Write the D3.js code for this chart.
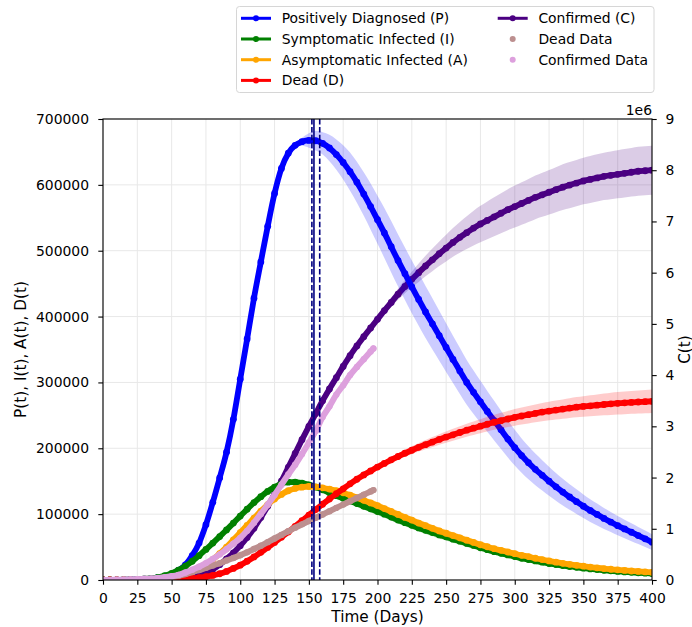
<!DOCTYPE html>
<html>
<head>
<meta charset="utf-8">
<script src="https://cdn.jsdelivr.net/npm/d3@7"></script>
<style>
body { margin: 0; background: #fff; }
svg { font-family: "DejaVu Sans", sans-serif; }
</style>
</head>
<body>
<svg id="chart" width="692" height="627"></svg>
<script>
/*################
Data (model sampled every 5 days)
################*/
const days = d3.range(0, 401, 5);

const positive = [0, 50, 150, 300, 500, 800, 1300, 2200, 3500, 5700,
    9000, 14500, 23000, 37000, 56000, 84000, 118000, 155000, 194000, 244000,
    305000, 366000, 428000, 483000, 537000, 587000, 625000, 648000, 660000, 665500,
    667500, 667000, 663000, 656000, 646000, 634000, 620000, 604000, 586000, 567000,
    547000, 527000, 506000, 485000, 465000, 445000, 426000, 407000, 389000, 371000,
    353000, 335000, 317500, 300000, 285000, 270500, 256000, 242000, 228000, 214000,
    201000, 189000, 178000, 168000, 159000, 150000, 141500, 133500, 126000, 119000,
    112000, 105500, 99500, 93500, 88000, 82500, 77500, 72500, 67500, 62500,
    57500];
const positiveBand = [0, 0, 0, 0, 0, 0, 0, 0, 0, 0,
    0, 0, 0, 0, 0, 0, 0, 0, 0, 0,
    0, 0, 0, 0, 0, 0, 0, 0, 2000, 6000,
    11000, 15000, 17000, 20000, 23000, 26000, 29000, 31000, 33000, 35000,
    36500, 38000, 39000, 39500, 40000, 40000, 40000, 39500, 39000, 38000,
    37000, 36000, 35000, 34000, 33000, 32000, 31000, 30000, 29000, 28000,
    27000, 26000, 25000, 24000, 23000, 22000, 21000, 20200, 19500, 18700,
    18000, 17300, 16600, 16000, 15300, 14700, 14100, 13500, 13000, 12500,
    12000];

const symptomatic = [0, 100, 200, 400, 600, 1000, 1500, 2500, 4000, 6500,
    10000, 15000, 21000, 28500, 37000, 46500, 56000, 66000, 76000, 86500,
    97000, 107500, 117500, 126500, 134500, 141000, 146000, 148500, 148500, 147000,
    144500, 141000, 137000, 132500, 128000, 124000, 120000, 116000, 112000, 108000,
    104000, 100000, 95500, 91000, 87000, 83000, 79000, 75500, 72000, 68500,
    65500, 62000, 59000, 55500, 52500, 49000, 46000, 43000, 40500, 38000,
    35500, 33000, 31000, 29000, 27000, 25000, 23500, 22000, 20500, 19200,
    18000, 16800, 15800, 14800, 13900, 13000, 12300, 11600, 11000, 10400,
    9900];
const asymptomatic = [0, 0, 50, 100, 200, 300, 500, 700, 1000, 1800,
    3000, 5000, 8000, 12000, 17000, 23000, 31000, 40000, 50000, 61000,
    72000, 83000, 94000, 104500, 114500, 123000, 130000, 135500, 139000, 141000,
    142000, 141500, 140000, 138000, 135500, 132500, 129000, 125000, 121000, 117000,
    113000, 108500, 104000, 99500, 95000, 91000, 86500, 82500, 78500, 74500,
    71000, 67500, 64000, 60500, 57000, 53500, 50500, 47500, 45000, 42500,
    40000, 37500, 35500, 33000, 31000, 29000, 27000, 25300, 23800, 22300,
    21000, 19700, 18500, 17400, 16300, 15400, 14500, 13700, 13000, 12300,
    11700];
const infectedBand = [0, 0, 0, 0, 0, 0, 0, 0, 0, 0,
    0, 0, 0, 0, 0, 0, 0, 0, 0, 0,
    0, 0, 0, 0, 0, 0, 0, 0, 0, 0,
    0, 0, 0, 1000, 2000, 3000, 4000, 5000, 5500, 5500,
    5500, 5500, 5500, 5500, 5500, 5500, 5500, 5500, 5500, 5500,
    5500, 5500, 5500, 5300, 5100, 4900, 4700, 4500, 4300, 4100,
    3900, 3700, 3500, 3400, 3300, 3200, 3100, 3000, 2900, 2800,
    2700, 2600, 2500, 2400, 2300, 2200, 2100, 2000, 1900, 1800,
    1700];

const dead = [0, 0, 0, 0, 50, 100, 150, 250, 350, 500,
    700, 1000, 1500, 2300, 3500, 5000, 7000, 9500, 13000, 17500,
    22500, 28500, 35000, 42000, 49500, 57000, 65000, 73000, 81500, 90000,
    98500, 107000, 115000, 123000, 131000, 138500, 146000, 153000, 159500, 165500,
    171500, 177000, 182500, 187500, 192500, 197000, 201500, 205500, 209500, 213500,
    217000, 220500, 224000, 227500, 230500, 233500, 236500, 239500, 242000, 244500,
    247000, 249000, 251000, 253000, 255000, 256500, 258000, 259500, 261000, 262500,
    263500, 264500, 265500, 266500, 267500, 268300, 269000, 269700, 270300, 270800,
    271300];
const deadBand = [0, 0, 0, 0, 0, 0, 0, 0, 0, 0,
    0, 0, 0, 0, 0, 0, 0, 0, 0, 0,
    0, 0, 0, 0, 0, 0, 0, 0, 0, 0,
    0, 0, 0, 0, 500, 1000, 1500, 2000, 2500, 3000,
    3500, 4000, 4500, 5000, 5500, 6000, 6500, 7000, 7500, 8000,
    8500, 9000, 9400, 9800, 10200, 10600, 11000, 11400, 11800, 12200,
    12600, 12900, 13200, 13500, 13800, 14100, 14400, 14700, 15000, 15300,
    15600, 15900, 16200, 16500, 16800, 17000, 17200, 17400, 17600, 17700,
    17800];

// confirmed, in millions (right axis)
const confirmed = [0, 0, 0, 0, 0, 0, 0, 0, 0, 0,
    0.002, 0.01, 0.03, 0.06, 0.1, 0.15, 0.21, 0.3, 0.41, 0.53,
    0.67, 0.83, 1.01, 1.22, 1.44, 1.68, 1.93, 2.2, 2.47, 2.74,
    3.0, 3.25, 3.5, 3.73, 3.95, 4.17, 4.38, 4.57, 4.75, 4.92,
    5.09, 5.26, 5.42, 5.58, 5.73, 5.87, 6.0, 6.13, 6.25, 6.37,
    6.48, 6.59, 6.69, 6.78, 6.87, 6.95, 7.02, 7.09, 7.16, 7.23,
    7.29, 7.35, 7.41, 7.47, 7.52, 7.57, 7.62, 7.67, 7.71, 7.75,
    7.79, 7.82, 7.85, 7.88, 7.9, 7.92, 7.94, 7.96, 7.98, 7.99,
    8.0];
const confirmedBand = [0, 0, 0, 0, 0, 0, 0, 0, 0, 0,
    0, 0, 0, 0, 0, 0, 0, 0, 0, 0,
    0, 0, 0, 0, 0, 0, 0, 0, 0, 0,
    0, 0, 0, 0, 0, 0, 0, 0.01, 0.02, 0.035,
    0.05, 0.07, 0.09, 0.11, 0.13, 0.15, 0.18, 0.2, 0.22, 0.24,
    0.26, 0.28, 0.3, 0.32, 0.34, 0.355, 0.37, 0.38, 0.39, 0.4,
    0.41, 0.415, 0.42, 0.425, 0.43, 0.435, 0.44, 0.445, 0.45, 0.452,
    0.455, 0.458, 0.46, 0.463, 0.466, 0.469, 0.472, 0.474, 0.476, 0.478,
    0.48];

// observed data
const dataDays = [...d3.range(0, 196, 5), 197];
const deadData = [0, 50, 100, 200, 300, 500, 800, 1300, 2000, 3000,
    4500, 6500, 9000, 12000, 15000, 18500, 22000, 25500, 29500, 33500,
    37500, 42000, 47000, 52000, 57500, 63000, 68500, 74000, 79500, 84500,
    89500, 94500, 99500, 104500, 109500, 114500, 119500, 124500, 129500, 134500,
    136500];
const confirmedData = [0, 0.002, 0.005, 0.008, 0.012, 0.017, 0.023, 0.03, 0.04, 0.055,
    0.072, 0.1, 0.145, 0.2, 0.26, 0.33, 0.41, 0.5, 0.6, 0.71,
    0.82, 0.96, 1.12, 1.29, 1.47, 1.66, 1.86, 2.06, 2.25, 2.46,
    2.68, 2.91, 3.18, 3.39, 3.62, 3.8, 4.0, 4.16, 4.31, 4.46,
    4.52];

// peak day and its bounds
const peakDay = [153.7];
const peakRange = [152.2, 157.9];

const xTicks = d3.range(0, 401, 25);
const leftTicks = d3.range(0, 700001, 100000);
const rightTicks = d3.range(0, 10, 1);

/*################
Canvas
################*/
const plotLeft = 103, plotRight = 652, plotTop = 119, plotBottom = 580;
const fontSize = '13.9px', labelSize = '15.3px';

const svg = d3.select('#chart');

const x = d3.scaleLinear().domain([0, 400]).range([plotLeft, plotRight]);
const yL = d3.scaleLinear().domain([0, 700000]).range([plotBottom, plotTop]);
const yR = d3.scaleLinear().domain([0, 9]).range([plotBottom, plotTop]);

svg.append('defs').append('clipPath').attr('id', 'plotClip')
    .append('rect')
    .attr('x', plotLeft).attr('y', plotTop)
    .attr('width', plotRight - plotLeft).attr('height', plotBottom - plotTop);

// grid
const grid = svg.append('g');
grid.selectAll('.vgrid').data(xTicks).enter().append('line')
    .attr('x1', d => x(d)).attr('x2', d => x(d))
    .attr('y1', plotTop).attr('y2', plotBottom)
    .attr('stroke', '#e8e8e8').attr('stroke-width', 1);
grid.selectAll('.hgrid').data(leftTicks).enter().append('line')
    .attr('x1', plotLeft).attr('x2', plotRight)
    .attr('y1', d => yL(d)).attr('y2', d => yL(d))
    .attr('stroke', '#e8e8e8').attr('stroke-width', 1);

const plot = svg.append('g').attr('clip-path', 'url(#plotClip)');

let series = [
    { name: 'Confirmed (C)', values: confirmed, band: confirmedBand, color: 'indigo', y: yR },
    { name: 'Positively Diagnosed (P)', values: positive, band: positiveBand, color: 'blue', y: yL },
    { name: 'Symptomatic Infected (I)', values: symptomatic, band: infectedBand, color: 'green', y: yL },
    { name: 'Asymptomatic Infected (A)', values: asymptomatic, band: infectedBand, color: 'orange', y: yL },
    { name: 'Dead (D)', values: dead, band: deadBand, color: 'red', y: yL }
];

series.forEach(s => {
    const area = d3.area()
        .x((d, i) => x(days[i]))
        .y0((d, i) => s.y(d - s.band[i]))
        .y1((d, i) => s.y(d + s.band[i]))
        .curve(d3.curveMonotoneX);
    const line = d3.line()
        .x((d, i) => x(days[i]))
        .y(d => s.y(d))
        .curve(d3.curveMonotoneX);

    plot.append('path').datum(s.values)
        .attr('d', area)
        .attr('fill', s.color)
        .attr('fill-opacity', 0.2);
    plot.append('path').datum(s.values)
        .attr('d', line)
        .attr('fill', 'none')
        .attr('stroke', s.color)
        .attr('stroke-width', 5.8);
    plot.append('g').selectAll('circle')
        .data(s.values).enter().append('circle')
        .attr('cx', (d, i) => x(days[i]))
        .attr('cy', d => s.y(d))
        .attr('r', 3.4)
        .attr('fill', s.color);
});

// observed points
let observed = [
    { name: 'Dead Data', values: deadData, color: 'rosybrown', y: yL },
    { name: 'Confirmed Data', values: confirmedData, color: 'plum', y: yR }
];
observed.forEach(s => {
    plot.append('path').datum(s.values)
        .attr('d', d3.line().x((d, i) => x(dataDays[i])).y(d => s.y(d)).curve(d3.curveMonotoneX))
        .attr('fill', 'none')
        .attr('stroke', s.color)
        .attr('stroke-width', 6)
        .attr('stroke-linecap', 'round');
    plot.append('g').selectAll('circle')
        .data(s.values).enter().append('circle')
        .attr('cx', (d, i) => x(dataDays[i]))
        .attr('cy', d => s.y(d))
        .attr('r', 3.2)
        .attr('fill', s.color);
});

// peak lines
plot.selectAll('.peak').data(peakDay).enter().append('line')
    .attr('x1', d => x(d)).attr('x2', d => x(d))
    .attr('y1', plotTop).attr('y2', plotBottom)
    .attr('stroke', 'navy').attr('stroke-width', 1.6);
plot.selectAll('.bound').data(peakRange).enter().append('line')
    .attr('x1', d => x(d)).attr('x2', d => x(d))
    .attr('y1', plotTop).attr('y2', plotBottom)
    .attr('stroke', 'navy').attr('stroke-width', 1.6)
    .attr('stroke-dasharray', '5.5,2.4');

/*################
Axes
################*/
let styleAxis = g => {
    g.select('.domain').remove();
    g.selectAll('line').attr('stroke', '#000').attr('stroke-width', 1.1);
    g.selectAll('text').attr('font-size', fontSize).attr('fill', '#000')
        .attr('font-family', '"DejaVu Sans", sans-serif');
};

svg.append('g').attr('transform', `translate(0,${plotBottom})`)
    .call(d3.axisBottom(x).tickValues(xTicks).tickSize(4.7).tickPadding(8.3))
    .call(styleAxis);
svg.append('g').attr('transform', `translate(${plotLeft},0)`)
    .call(d3.axisLeft(yL).tickValues(leftTicks).tickFormat(d3.format('d')).tickSize(4.7).tickPadding(9.3))
    .call(styleAxis);
svg.append('g').attr('transform', `translate(${plotRight},0)`)
    .call(d3.axisRight(yR).tickValues(rightTicks).tickFormat(d3.format('d')).tickSize(4.7).tickPadding(8.7))
    .call(styleAxis);

svg.append('rect')
    .attr('x', plotLeft).attr('y', plotTop)
    .attr('width', plotRight - plotLeft).attr('height', plotBottom - plotTop)
    .attr('fill', 'none').attr('stroke', '#000').attr('stroke-width', 1.1);

svg.append('text')
    .attr('x', (plotLeft + plotRight) / 2).attr('y', 622)
    .attr('text-anchor', 'middle').attr('font-size', labelSize)
    .text('Time (Days)');
svg.append('text')
    .attr('transform', `translate(26.3,${(plotTop + plotBottom) / 2}) rotate(-90)`)
    .attr('text-anchor', 'middle').attr('font-size', labelSize)
    .text('P(t), I(t), A(t), D(t)');
svg.append('text')
    .attr('transform', `translate(689.5,${(plotTop + plotBottom) / 2}) rotate(-90)`)
    .attr('text-anchor', 'middle').attr('font-size', labelSize)
    .text('C(t)');
svg.append('text')
    .attr('x', plotRight).attr('y', 115)
    .attr('text-anchor', 'end').attr('font-size', fontSize)
    .text('1e6');

/*################
Legend
################*/
let legendItems = [
    { name: 'Positively Diagnosed (P)', color: 'blue', line: true },
    { name: 'Symptomatic Infected (I)', color: 'green', line: true },
    { name: 'Asymptomatic Infected (A)', color: 'orange', line: true },
    { name: 'Dead (D)', color: 'red', line: true },
    { name: 'Confirmed (C)', color: 'indigo', line: true },
    { name: 'Dead Data', color: 'rosybrown', line: false },
    { name: 'Confirmed Data', color: 'plum', line: false }
];

function position(d, i) {
    const col = i < 4 ? 0 : 1;
    const row = i < 4 ? i : i - 4;
    return `translate(${241 + col * 256.7},${18.3 + row * 20.7})`;
}

svg.append('rect')
    .attr('x', 236.5).attr('y', 6.5)
    .attr('width', 417.5).attr('height', 86)
    .attr('rx', 3)
    .attr('fill', '#fff').attr('fill-opacity', 0.8)
    .attr('stroke', '#d6d6d6').attr('stroke-width', 1);

svg.append('g').selectAll('g')
    .data(legendItems).enter().append('g')
    .attr('transform', position)
    .call(g => g.filter(d => d.line).append('line')
        .attr('x1', 0).attr('x2', 30)
        .attr('stroke', d => d.color).attr('stroke-width', 3))
    .call(g => g.append('circle')
        .attr('cx', 15).attr('r', 3)
        .attr('fill', d => d.color))
    .call(g => g.append('text')
        .attr('x', 40.7).attr('y', 5)
        .attr('font-size', fontSize)
        .text(d => d.name));
</script>
</body>
</html>
